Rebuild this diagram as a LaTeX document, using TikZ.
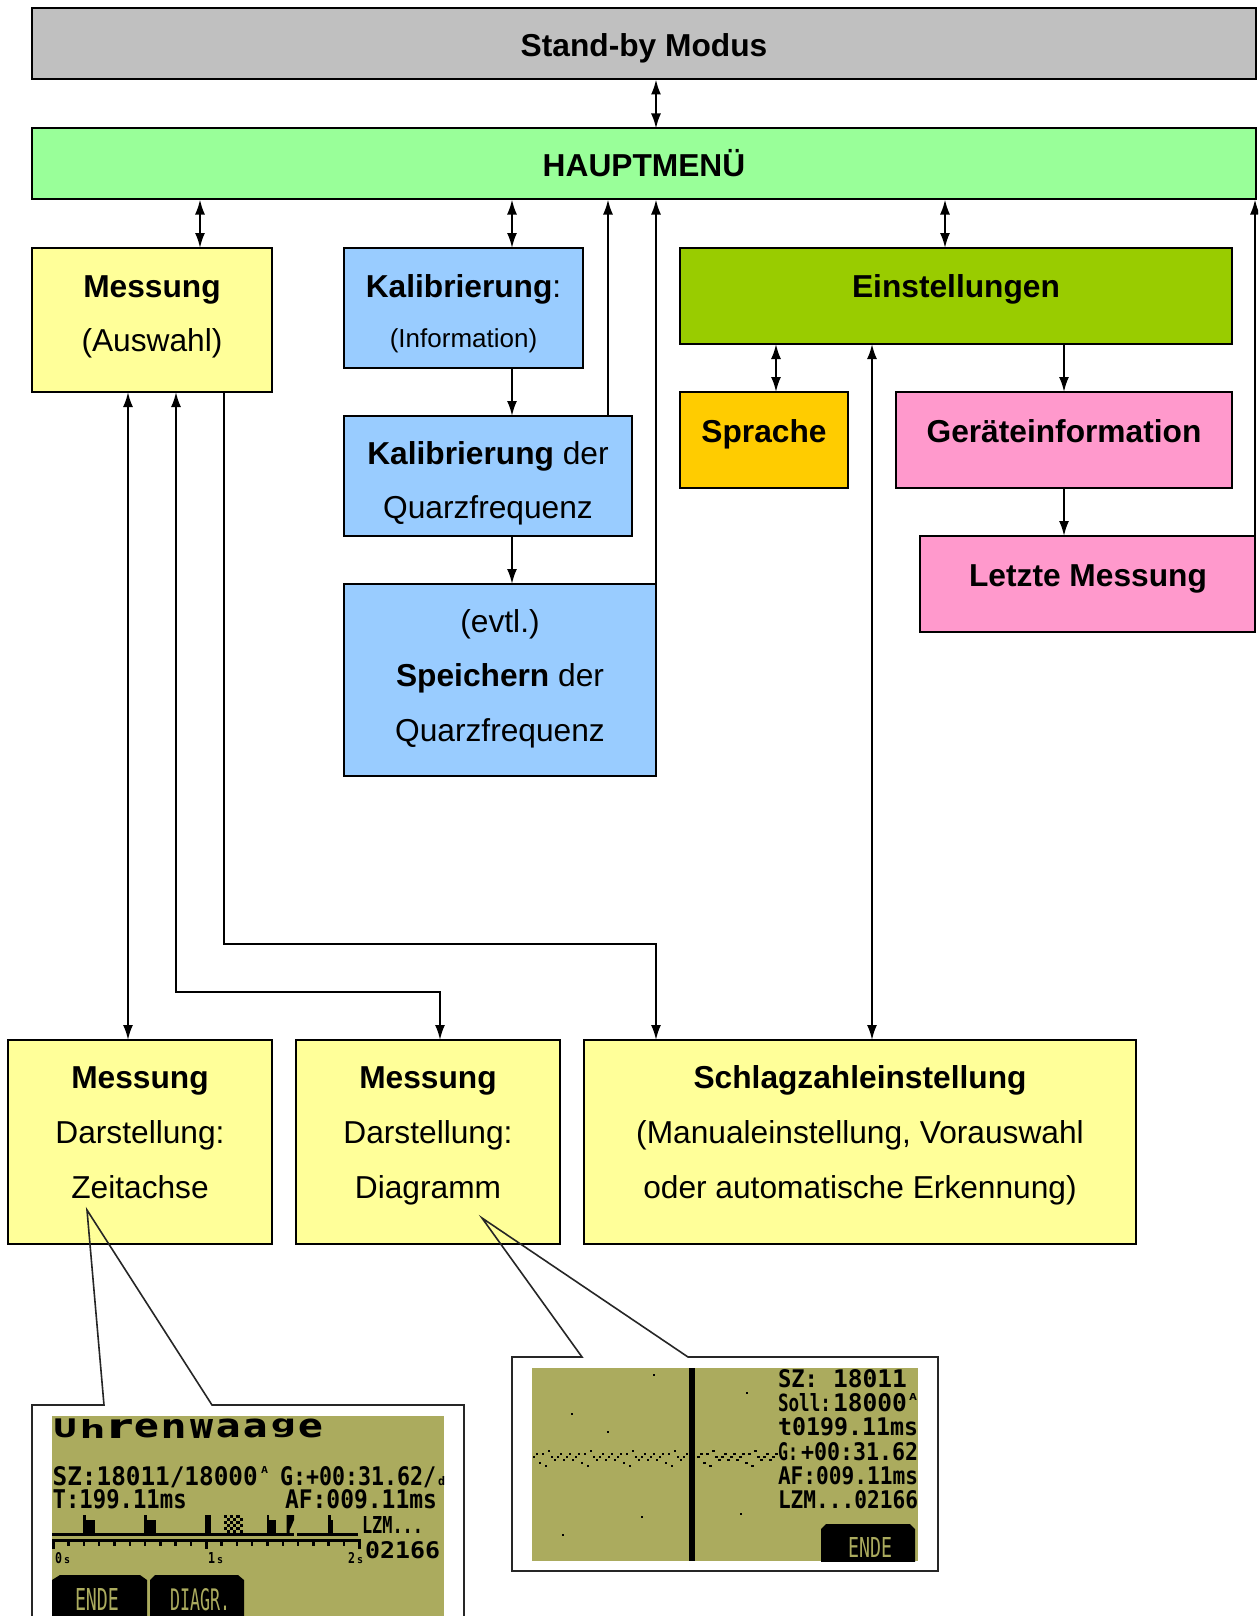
\documentclass[tikz,border=0pt]{standalone}
\usepackage{fontspec}
\usepackage{graphicx}
\setmainfont{Liberation Sans}
\newfontfamily\lcdfont{DejaVu Sans Mono}
\newfontfamily\lcdwide{DejaVu Sans}
\usetikzlibrary{arrows.meta}
\definecolor{sbgray}{RGB}{192,192,192}
\definecolor{hmgreen}{RGB}{153,255,153}
\definecolor{msyellow}{RGB}{255,255,153}
\definecolor{kblue}{RGB}{153,204,255}
\definecolor{egreen}{RGB}{153,204,0}
\definecolor{sorange}{RGB}{255,204,0}
\definecolor{gpink}{RGB}{255,153,204}
\definecolor{lcdolive}{RGB}{171,171,94}
\newcommand{\lcdt}[3]{\resizebox{#1pt}{#2pt}{\lcdfont\bfseries #3}}
\newcommand{\lcdb}[3]{\resizebox{#1pt}{#2pt}{\lcdfont #3}}
\begin{document}
\begin{tikzpicture}[x=1pt,y=-1pt,
  box/.style={draw=black, line width=2pt, inner sep=0pt, outer sep=0pt, anchor=north west},
  txt/.style={inner sep=0pt, anchor=base, font=\fontsize{31.7}{38}\selectfont},
  stxt/.style={inner sep=0pt, anchor=base, font=\fontsize{26}{30}\selectfont},
  conn/.style={line width=2pt},
  arr/.style={conn, -{Latex[length=15pt,width=10pt]}},
  darr/.style={conn, {Latex[length=15pt,width=10pt]}-{Latex[length=15pt,width=10pt]}},
  callout/.style={line width=1.6pt, draw=black!85, line join=miter},
  lcdtx/.style={inner sep=0pt, outer sep=0pt, anchor=base west},
  lcdch/.style={inner sep=0pt, outer sep=0pt, anchor=south west},
]
\useasboundingbox (0,0) rectangle (1258,1616);
\fill[white] (0,0) rectangle (1258,1616);
\clip (0,0) rectangle (1258,1616);

% ---------- boxes ----------
\node[box, fill=sbgray, minimum width=1224pt, minimum height=71pt] (standby) at (32,8.5) {};
\node[box, fill=hmgreen, minimum width=1224pt, minimum height=71pt] (haupt) at (32,128.5) {};
\node[box, fill=msyellow, minimum width=240pt, minimum height=144pt] (messA) at (32,248) {};
\node[box, fill=kblue, minimum width=239pt, minimum height=120pt] (kalib) at (344,248) {};
\node[box, fill=egreen, minimum width=552pt, minimum height=96pt] (einst) at (680,248) {};
\node[box, fill=sorange, minimum width=168pt, minimum height=96pt] (sprache) at (680,392) {};
\node[box, fill=gpink, minimum width=336pt, minimum height=96pt] (geraet) at (896,392) {};
\node[box, fill=gpink, minimum width=335pt, minimum height=96pt] (letzte) at (920,536) {};
\node[box, fill=kblue, minimum width=288pt, minimum height=120pt] (kalibQ) at (344,416) {};
\node[box, fill=kblue, minimum width=312pt, minimum height=192pt] (speich) at (344,584) {};
\node[box, fill=msyellow, minimum width=264pt, minimum height=204pt] (zeit) at (8,1040) {};
\node[box, fill=msyellow, minimum width=264pt, minimum height=204pt] (diag) at (296,1040) {};
\node[box, fill=msyellow, minimum width=552pt, minimum height=204pt] (schlag) at (584,1040) {};

% ---------- texts ----------
\node[txt] (t-standby) at (644,57) {\textbf{Stand-by Modus}};
\node[txt] (t-haupt) at (644,177) {\textbf{HAUPTMENÜ}};
\node[txt] (t-messA1) at (152,297) {\textbf{Messung}};
\node[txt] (t-messA2) at (152,351.5) {(Auswahl)};
\node[txt] (t-kalib1) at (463.5,297) {\textbf{Kalibrierung}:};
\node[stxt] (t-kalib2) at (463.5,347) {(Information)};
\node[txt] (t-einst) at (956,297) {\textbf{Einstellungen}};
\node[txt] (t-sprache) at (764,442) {\textbf{Sprache}};
\node[txt] (t-geraet) at (1064,442) {\textbf{Geräteinformation}};
\node[txt] (t-letzte) at (1088,586) {\textbf{Letzte Messung}};
\node[txt] (t-kalibQ1) at (488,464) {\textbf{Kalibrierung} der};
\node[txt] (t-kalibQ2) at (488,518.6) {Quarzfrequenz};
\node[txt] (t-speich1) at (500,632) {(evtl.)};
\node[txt] (t-speich2) at (500,686.5) {\textbf{Speichern} der};
\node[txt] (t-speich3) at (500,741) {Quarzfrequenz};
\node[txt] (t-zeit1) at (140,1088.5) {\textbf{Messung}};
\node[txt] (t-zeit2) at (140,1143) {Darstellung:};
\node[txt] (t-zeit3) at (140,1198) {Zeitachse};
\node[txt] (t-diag1) at (428,1088.5) {\textbf{Messung}};
\node[txt] (t-diag2) at (428,1143) {Darstellung:};
\node[txt] (t-diag3) at (428,1198) {Diagramm};
\node[txt] (t-schlag1) at (860,1088.5) {\textbf{Schlagzahleinstellung}};
\node[txt] (t-schlag2) at (860,1143) {(Manualeinstellung, Vorauswahl};
\node[txt] (t-schlag3) at (860,1198) {oder automatische Erkennung)};

% ---------- connector columns ----------
\coordinate (x128) at (128,0);
\coordinate (x176) at (176,0);
\coordinate (x200) at (200,0);
\coordinate (x224) at (224,0);
\coordinate (x440) at (440,0);
\coordinate (x512) at (512,0);
\coordinate (x608) at (608,0);
\coordinate (x656) at (656,0);
\coordinate (x776) at (776,0);
\coordinate (x872) at (872,0);
\coordinate (x945) at (945,0);
\coordinate (x1064) at (1064,0);
\coordinate (y944) at (0,944);
\coordinate (y992) at (0,992);

\draw[darr] (x656 |- standby.south) -- (x656 |- haupt.north);
\draw[darr] (x200 |- haupt.south) -- (x200 |- messA.north);
\draw[darr] (x512 |- haupt.south) -- (x512 |- kalib.north);
\draw[arr] (x512 |- kalib.south) -- (x512 |- kalibQ.north);
\draw[arr] (x512 |- kalibQ.south) -- (x512 |- speich.north);
\draw[arr] (x608 |- kalibQ.north) -- (x608 |- haupt.south);
\draw[arr] (speich.north east) -- (speich.north east |- haupt.south);
\draw[darr] (x945 |- haupt.south) -- (x945 |- einst.north);
\draw[arr] (letzte.north east) -- (letzte.north east |- haupt.south);
\draw[darr] (x776 |- einst.south) -- (x776 |- sprache.north);
\draw[arr] (x1064 |- einst.south) -- (x1064 |- geraet.north);
\draw[arr] (x1064 |- geraet.south) -- (x1064 |- letzte.north);
\draw[darr] (x872 |- einst.south) -- (x872 |- schlag.north);
\draw[darr] (x128 |- messA.south) -- (x128 |- zeit.north);
\draw[darr] (x176 |- messA.south) -- (x176 |- y992) -- (x440 |- y992) -- (x440 |- diag.north);
\draw[arr] (x224 |- messA.south) -- (x224 |- y944) -- (x656 |- y944) -- (x656 |- schlag.north);

% ---------- callouts ----------
\coordinate (cz) at (87,1210);
\draw[callout] (104,1405) -- (cz) -- (212,1405) -- (464,1405) -- (464,1650) -- (32,1650) -- (32,1405) -- cycle;
\coordinate (cd) at (482,1218);
\draw[callout] (582,1357) -- (cd) -- (688,1357) -- (938,1357) -- (938,1571) -- (512,1571) -- (512,1357) -- cycle;

% ---------- LCD 1 (Zeitachse) ----------
\fill[lcdolive] (52,1416) rectangle (444,1625);
\begin{scope}
\clip (52,1416) rectangle (444,1625);
\foreach \ch [count=\i from 0] in {U,h,r,e,n,w,a,a,g,e}
  \node[lcdch] (uw\i) at ({52.7+27.3*\i},1438) {\resizebox*{25pt}{19pt}{\lcdwide\bfseries\ch}};
\node[lcdtx] (l1sz) at (52.7,1485) {\lcdt{205}{19}{SZ:18011/18000}};
\node[lcdtx] (l1sa) at (261,1473) {\lcdt{7}{7}{A}};
\node[lcdtx] (l1g) at (280,1485) {\lcdt{156}{19}{G:+00:31.62/}};
\node[lcdtx] (l1d) at (438,1485) {\lcdt{7}{9}{d}};
\node[lcdtx] (l1t) at (52.7,1508) {\lcdt{134}{19}{T:199.11ms}};
\node[lcdtx] (l1af) at (285,1508) {\lcdt{152}{19}{AF:009.11ms}};
\node[lcdtx] (l1lzm) at (362,1533) {\lcdt{61}{17}{LZM...}};
\node[lcdtx] (l1n) at (365,1558) {\lcdt{75}{17}{02166}};
% pulse trace
\fill[black] (52,1533) rectangle (294,1536);
\fill[black] (297,1533) rectangle (358,1536);
\fill[black] (83.3,1515) rectangle (86,1533);
\fill[black] (86,1520) rectangle (95,1533);
\fill[black] (144.3,1515) rectangle (147,1533);
\fill[black] (147,1520) rectangle (156,1533);
\fill[black] (205,1515) rectangle (211,1533);
\foreach \i in {0,...,5}{\foreach \j in {0,...,5}{
  \pgfmathtruncatemacro{\m}{mod(\i+\j,2)}
  \ifnum\m=0 \fill[black] (224+3.1*\i,1515+3*\j) rectangle ++(3.1,3); \fi }}
\fill[black] (266.7,1515) rectangle (269.3,1533);
\fill[black] (269.3,1520) rectangle (276,1533);
\fill[black] (286.7,1515) -- (294,1515) -- (294,1520) -- (291.5,1526) -- (289.5,1530) -- (289.5,1533) -- (286.7,1533) -- cycle;
\fill[black] (328,1515) rectangle (330.7,1533);
\fill[black] (330.7,1520) rectangle (333.3,1533);
% axis
\fill[black] (52,1539) rectangle (361,1542);
\foreach \i in {0,...,20}
  \fill[black] ({52+15.3*\i},1542) rectangle ++(2.5,3.5);
\foreach \i in {0,10,20}
  \fill[black] ({52+15.3*\i},1542) rectangle ++(2.5,7);
\node[lcdtx] (l1s0) at (55,1563) {\lcdt{7}{11}{0}};
\node[lcdtx] (l1s0s) at (64,1563) {\lcdt{6}{6}{s}};
\node[lcdtx] (l1s1) at (208,1563) {\lcdt{7}{11}{1}};
\node[lcdtx] (l1s1s) at (217,1563) {\lcdt{6}{6}{s}};
\node[lcdtx] (l1s2) at (348,1563) {\lcdt{7}{11}{2}};
\node[lcdtx] (l1s2s) at (357,1563) {\lcdt{6}{6}{s}};
% soft keys
\fill[black] (52,1580) -- (60,1575) -- (140,1575) -- (147,1580) -- (147,1625) -- (52,1625) -- cycle;
\fill[black] (150,1580) -- (155,1575) -- (238,1575) -- (244,1580) -- (244,1625) -- (150,1625) -- cycle;
\node[lcdtx, text=lcdolive] (l1ende) at (75,1610) {\lcdb{44}{22}{ENDE}};
\node[lcdtx, text=lcdolive] (l1diagr) at (170,1610) {\lcdb{60}{22}{DIAGR.}};
\end{scope}

% ---------- LCD 2 (Diagramm) ----------
\fill[lcdolive] (532,1368) rectangle (918,1561);
\begin{scope}
\clip (532,1368) rectangle (918,1561);
\fill[black] (689,1368) rectangle (695,1561);
\foreach \p in {(654,1375),(572,1414),(608,1432),(747,1393),(642,1517),(563,1535),(741,1514)}
  \fill[black] \p ++(-1.4,-1.4) rectangle ++(2.8,2.8);
\foreach \c in {0,...,51}{
  \pgfmathsetmacro{\off}{{0,-1,2,-1,3,-2,0,1,0,-1,1,0,-1,1}[mod(\c,14)]}
  \fill[black] (532.5+3*\c,1455.5+3*\off) rectangle ++(2.6,2.6); }
\foreach \c in {0,...,26}{
  \pgfmathsetmacro{\off}{{0,-1,2,-1,3,-2,0,1,0,-1,1,0,-1,1}[mod(\c,14)]}
  \fill[black] (697+3*\c,1455.5+3*\off) rectangle ++(2.6,2.6); }
\node[lcdtx] (l2sz) at (778,1387) {\lcdt{40}{18}{SZ:}};
\node[lcdtx] (l2szn) at (833,1387) {\lcdt{74}{18}{18011}};
\node[lcdtx] (l2soll) at (778,1411.5) {\lcdt{53}{18}{Soll:}};
\node[lcdtx] (l2solln) at (833,1411.5) {\lcdt{74}{18}{18000}};
\node[lcdtx] (l2sa) at (909,1400) {\lcdt{8}{7}{A}};
\node[lcdtx] (l2t) at (778,1435.5) {\lcdt{140}{18}{t0199.11ms}};
\node[lcdtx] (l2g) at (778,1460) {\lcdt{20}{18}{G:}};
\node[lcdtx] (l2gn) at (801,1460) {\lcdt{117}{18}{+00:31.62}};
\node[lcdtx] (l2af) at (778,1484) {\lcdt{140}{18}{AF:009.11ms}};
\node[lcdtx] (l2lzm) at (778,1508) {\lcdt{140}{18}{LZM...02166}};
\fill[black] (821,1529) -- (826,1524) -- (910,1524) -- (915,1529) -- (915,1565) -- (821,1565) -- cycle;
\node[lcdtx, text=lcdolive] (l2ende) at (848,1557) {\lcdb{44}{20}{ENDE}};
\end{scope}
\end{tikzpicture}
\end{document}
